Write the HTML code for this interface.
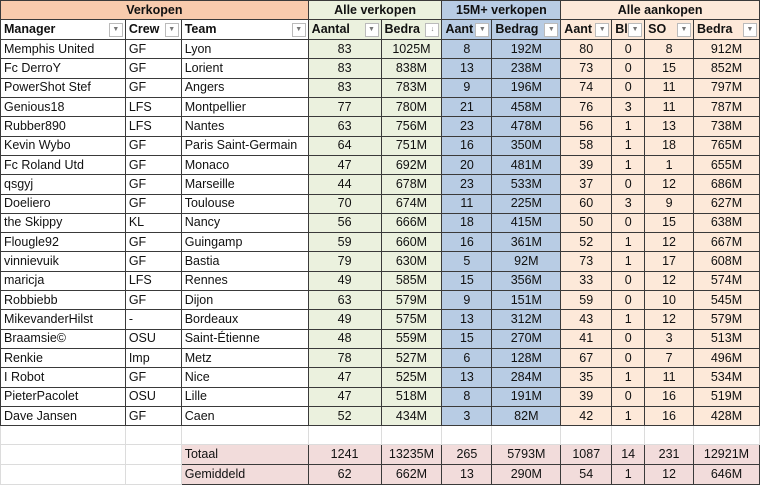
<!DOCTYPE html>
<html><head><meta charset="utf-8"><style>
body{margin:0;width:760px;height:485px;overflow:hidden;background:#fff;font-family:"Liberation Sans",Arial,sans-serif;font-size:12.5px;color:#111}
table{border-collapse:collapse;table-layout:fixed;position:absolute;left:0;top:0}
td{padding:0 3px;white-space:nowrap;overflow:hidden;border:1px solid #3a3a3a;height:19.32px;line-height:15px;box-sizing:border-box;vertical-align:middle}
td.c{text-align:center}
.g{background:#ebf1de}.b{background:#b8cce4}.p{background:#fde9d9}.o{background:#f8cbad}
tr.h td{font-weight:bold;text-align:center;height:19px}
tr.hd td{font-weight:bold;background:#fff;position:relative;height:20px}
tr.hd td.g{background:#ebf1de}tr.hd td.b{background:#b8cce4}tr.hd td.p{background:#fde9d9}
.f{display:inline-block;position:absolute;right:2px;top:3px;width:12px;height:12px;border:1px solid #bbb;background:#fff;font-size:7px;line-height:12px;text-align:center;color:#777;font-weight:normal}
tr.e td{border:1px solid #dcdcdc;border-top-color:#3a3a3a;height:19px}
tr.t td{height:20px}
tr.t td.n{border:1px solid #dcdcdc}
.r{background:#f2dcdb}
</style></head><body>
<table>
<colgroup><col style="width:125px"><col style="width:56px"><col style="width:127px"><col style="width:73px"><col style="width:61px"><col style="width:50px"><col style="width:69px"><col style="width:51px"><col style="width:33px"><col style="width:49px"><col style="width:66px"></colgroup>
<tr class="h"><td class="o" colspan="3">Verkopen</td><td class="g" colspan="2">Alle verkopen</td><td class="b" colspan="2">15M+ verkopen</td><td class="p" colspan="4">Alle aankopen</td></tr>
<tr class="hd"><td>Manager<span class="f">▼</span></td><td>Crew<span class="f">▼</span></td><td>Team<span class="f">▼</span></td><td class="g">Aantal<span class="f">▼</span></td><td class="g">Bedra<span class="f">↓</span></td><td class="b">Aant<span class="f">▼</span></td><td class="b">Bedrag<span class="f">▼</span></td><td class="p">Aant<span class="f">▼</span></td><td class="p">Bl<span class="f">▼</span></td><td class="p">SO<span class="f">▼</span></td><td class="p">Bedra<span class="f">▼</span></td></tr>
<tr><td>Memphis United</td><td>GF</td><td>Lyon</td><td class="c g">83</td><td class="c g">1025M</td><td class="c b">8</td><td class="c b">192M</td><td class="c p">80</td><td class="c p">0</td><td class="c p">8</td><td class="c p">912M</td></tr>
<tr><td>Fc DerroY</td><td>GF</td><td>Lorient</td><td class="c g">83</td><td class="c g">838M</td><td class="c b">13</td><td class="c b">238M</td><td class="c p">73</td><td class="c p">0</td><td class="c p">15</td><td class="c p">852M</td></tr>
<tr><td>PowerShot Stef</td><td>GF</td><td>Angers</td><td class="c g">83</td><td class="c g">783M</td><td class="c b">9</td><td class="c b">196M</td><td class="c p">74</td><td class="c p">0</td><td class="c p">11</td><td class="c p">797M</td></tr>
<tr><td>Genious18</td><td>LFS</td><td>Montpellier</td><td class="c g">77</td><td class="c g">780M</td><td class="c b">21</td><td class="c b">458M</td><td class="c p">76</td><td class="c p">3</td><td class="c p">11</td><td class="c p">787M</td></tr>
<tr><td>Rubber890</td><td>LFS</td><td>Nantes</td><td class="c g">63</td><td class="c g">756M</td><td class="c b">23</td><td class="c b">478M</td><td class="c p">56</td><td class="c p">1</td><td class="c p">13</td><td class="c p">738M</td></tr>
<tr><td>Kevin Wybo</td><td>GF</td><td>Paris Saint-Germain</td><td class="c g">64</td><td class="c g">751M</td><td class="c b">16</td><td class="c b">350M</td><td class="c p">58</td><td class="c p">1</td><td class="c p">18</td><td class="c p">765M</td></tr>
<tr><td>Fc Roland Utd</td><td>GF</td><td>Monaco</td><td class="c g">47</td><td class="c g">692M</td><td class="c b">20</td><td class="c b">481M</td><td class="c p">39</td><td class="c p">1</td><td class="c p">1</td><td class="c p">655M</td></tr>
<tr><td>qsgyj</td><td>GF</td><td>Marseille</td><td class="c g">44</td><td class="c g">678M</td><td class="c b">23</td><td class="c b">533M</td><td class="c p">37</td><td class="c p">0</td><td class="c p">12</td><td class="c p">686M</td></tr>
<tr><td>Doeliero</td><td>GF</td><td>Toulouse</td><td class="c g">70</td><td class="c g">674M</td><td class="c b">11</td><td class="c b">225M</td><td class="c p">60</td><td class="c p">3</td><td class="c p">9</td><td class="c p">627M</td></tr>
<tr><td>the Skippy</td><td>KL</td><td>Nancy</td><td class="c g">56</td><td class="c g">666M</td><td class="c b">18</td><td class="c b">415M</td><td class="c p">50</td><td class="c p">0</td><td class="c p">15</td><td class="c p">638M</td></tr>
<tr><td>Flougle92</td><td>GF</td><td>Guingamp</td><td class="c g">59</td><td class="c g">660M</td><td class="c b">16</td><td class="c b">361M</td><td class="c p">52</td><td class="c p">1</td><td class="c p">12</td><td class="c p">667M</td></tr>
<tr><td>vinnievuik</td><td>GF</td><td>Bastia</td><td class="c g">79</td><td class="c g">630M</td><td class="c b">5</td><td class="c b">92M</td><td class="c p">73</td><td class="c p">1</td><td class="c p">17</td><td class="c p">608M</td></tr>
<tr><td>maricja</td><td>LFS</td><td>Rennes</td><td class="c g">49</td><td class="c g">585M</td><td class="c b">15</td><td class="c b">356M</td><td class="c p">33</td><td class="c p">0</td><td class="c p">12</td><td class="c p">574M</td></tr>
<tr><td>Robbiebb</td><td>GF</td><td>Dijon</td><td class="c g">63</td><td class="c g">579M</td><td class="c b">9</td><td class="c b">151M</td><td class="c p">59</td><td class="c p">0</td><td class="c p">10</td><td class="c p">545M</td></tr>
<tr><td>MikevanderHilst</td><td>-</td><td>Bordeaux</td><td class="c g">49</td><td class="c g">575M</td><td class="c b">13</td><td class="c b">312M</td><td class="c p">43</td><td class="c p">1</td><td class="c p">12</td><td class="c p">579M</td></tr>
<tr><td>Braamsie©</td><td>OSU</td><td>Saint-Étienne</td><td class="c g">48</td><td class="c g">559M</td><td class="c b">15</td><td class="c b">270M</td><td class="c p">41</td><td class="c p">0</td><td class="c p">3</td><td class="c p">513M</td></tr>
<tr><td>Renkie</td><td>Imp</td><td>Metz</td><td class="c g">78</td><td class="c g">527M</td><td class="c b">6</td><td class="c b">128M</td><td class="c p">67</td><td class="c p">0</td><td class="c p">7</td><td class="c p">496M</td></tr>
<tr><td>I Robot</td><td>GF</td><td>Nice</td><td class="c g">47</td><td class="c g">525M</td><td class="c b">13</td><td class="c b">284M</td><td class="c p">35</td><td class="c p">1</td><td class="c p">11</td><td class="c p">534M</td></tr>
<tr><td>PieterPacolet</td><td>OSU</td><td>Lille</td><td class="c g">47</td><td class="c g">518M</td><td class="c b">8</td><td class="c b">191M</td><td class="c p">39</td><td class="c p">0</td><td class="c p">16</td><td class="c p">519M</td></tr>
<tr><td>Dave Jansen</td><td>GF</td><td>Caen</td><td class="c g">52</td><td class="c g">434M</td><td class="c b">3</td><td class="c b">82M</td><td class="c p">42</td><td class="c p">1</td><td class="c p">16</td><td class="c p">428M</td></tr>
<tr class="e"><td></td><td></td><td></td><td></td><td></td><td></td><td></td><td></td><td></td><td></td><td></td></tr>
<tr class="t"><td class="n"></td><td class="n"></td><td class="r">Totaal</td><td class="c r">1241</td><td class="c r">13235M</td><td class="c r">265</td><td class="c r">5793M</td><td class="c r">1087</td><td class="c r">14</td><td class="c r">231</td><td class="c r">12921M</td></tr>
<tr class="t"><td class="n"></td><td class="n"></td><td class="r">Gemiddeld</td><td class="c r">62</td><td class="c r">662M</td><td class="c r">13</td><td class="c r">290M</td><td class="c r">54</td><td class="c r">1</td><td class="c r">12</td><td class="c r">646M</td></tr>
</table>
</body></html>
